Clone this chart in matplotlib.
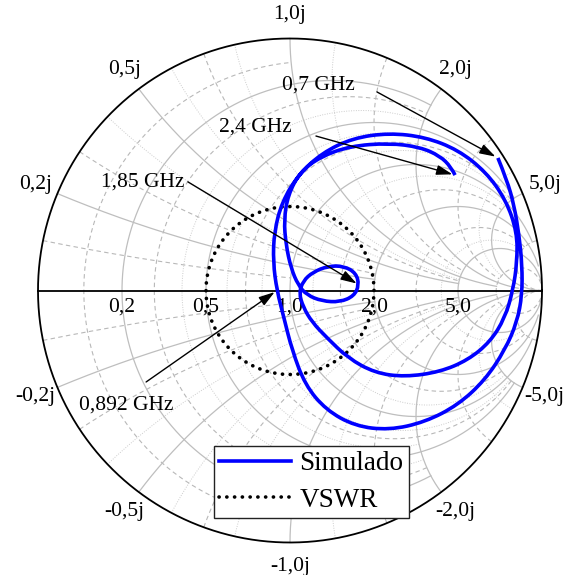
import numpy as np
import matplotlib
matplotlib.use('Agg')
import matplotlib.pyplot as plt
from matplotlib.path import Path
from matplotlib.patches import PathPatch
from matplotlib.lines import Line2D

# ---------------- data ----------------
# reflection coefficient trace (real / imag), swept 0.7 GHz -> 2.4 GHz
gamma_re = [0.825, 0.861, 0.889, 0.909, 0.921, 0.921, 0.901, 0.853, 0.774, 0.667,
            0.536, 0.393, 0.258, 0.143, 0.060, 0.008, -0.024, -0.052, -0.067, -0.063,
            -0.032, 0.032, 0.127, 0.250, 0.393, 0.536, 0.667, 0.778, 0.857, 0.901,
            0.901, 0.885, 0.853, 0.794, 0.706, 0.595, 0.456, 0.337, 0.230, 0.147,
            0.087, 0.052, 0.036, 0.052, 0.091, 0.151, 0.214, 0.262, 0.274, 0.254,
            0.198, 0.127, 0.067, 0.032, 0.004, -0.016, -0.024, -0.008, 0.040, 0.119,
            0.238, 0.393, 0.516, 0.595, 0.639, 0.655]
gamma_im = [0.526, 0.438, 0.339, 0.220, 0.101, -0.018, -0.125, -0.236, -0.355, -0.454,
            -0.522, -0.554, -0.538, -0.474, -0.375, -0.236, -0.109, 0.000, 0.113, 0.232,
            0.351, 0.458, 0.546, 0.605, 0.625, 0.609, 0.558, 0.470, 0.359, 0.232,
            0.113, 0.002, -0.109, -0.204, -0.276, -0.323, -0.343, -0.327, -0.268, -0.188,
            -0.125, -0.065, -0.010, 0.038, 0.073, 0.097, 0.097, 0.069, 0.022, -0.022,
            -0.046, -0.042, -0.018, 0.022, 0.089, 0.181, 0.280, 0.379, 0.470, 0.530,
            0.573, 0.585, 0.569, 0.534, 0.490, 0.458]

marker_labels = ['0,7 GHz', '2,4 GHz', '1,85 GHz', '0,892 GHz']
marker_index = [0, 65, 48, 17]

vswr_value = 2.0

r_ticks = [0.2, 0.5, 1.0, 2.0, 5.0]
r_tick_labels = ['0,2', '0,5', '1,0', '2,0', '5,0']
x_ticks = [0.2, 0.5, 1.0, 2.0, 5.0, -0.2, -0.5, -1.0, -2.0, -5.0]
x_tick_labels = ['0,2j', '0,5j', '1,0j', '2,0j', '5,0j',
                 '-0,2j', '-0,5j', '-1,0j', '-2,0j', '-5,0j']

# grid values and the value at which each grid line stops
grid_major = [0.2, 0.5, 1.0, 2.0, 5.0]
grid_major_stop = [2.0, 5.0, 10.0, 20.0, 1e9]
grid_dashed = [0.1, 0.3, 0.7, 1.5, 3.0, 10.0]
grid_dashed_stop = [1.0, 2.0, 5.0, 5.0, 10.0, 1e9]
grid_dotted = [0.4, 0.6, 0.8, 1.2, 4.0]
grid_dotted_stop = [2.0, 2.0, 5.0, 5.0, 10.0]

# ---------------- layout ----------------
ann_text_pos = [(0.111, 0.815), (-0.139, 0.649), (-0.583, 0.431), (-0.651, -0.454)]
ann_arrow_start = [(0.345, 0.788), (0.103, 0.613), (-0.405, 0.431), (-0.571, -0.363)]

FONT = 'Liberation Serif'
W, H = 568, 575
CX, CY, R = 290.0, 290.5, 252.0

fig = plt.figure(figsize=(W / 100, H / 100), dpi=100)
ax = fig.add_axes([0, 0, 1, 1])
ax.set_xlim(-CX / R, (W - CX) / R)
ax.set_ylim((CY - H) / R, CY / R)
ax.axis('off')


def z2g(z):
    return (z - 1) / (z + 1)


def r_circle(r, xmax):
    t = np.linspace(-np.arctan(xmax), np.arctan(xmax), 1500)
    return z2g(r + 1j * np.tan(t))


def x_arc(x, rmax):
    t = np.linspace(0, np.arctan(rmax), 1500)
    return z2g(np.tan(t) + 1j * x)


def draw_grid(vals, stops, **kw):
    for v, s in zip(vals, stops):
        g = r_circle(v, s)
        ax.plot(g.real, g.imag, **kw)
        for sg in (1, -1):
            g = x_arc(sg * v, s)
            ax.plot(g.real, g.imag, **kw)


draw_grid(grid_dotted, grid_dotted_stop, color='#cccccc', lw=0.7,
          ls=(0, (1, 1.5)), zorder=1)
draw_grid(grid_dashed, grid_dashed_stop, color='#b8b8b8', lw=0.8,
          ls=(0, (4, 3)), zorder=1.1)
draw_grid(grid_major, grid_major_stop, color='#bebebe', lw=0.9, ls='-', zorder=1.2)

# outer circle and real axis
th = np.linspace(0, 2 * np.pi, 800)
ax.plot(np.cos(th), np.sin(th), color='black', lw=1.3, zorder=3)
ax.plot([-1, 1], [0, 0], color='black', lw=1.3, zorder=3)

# tick labels
for r, lab in zip(r_ticks, r_tick_labels):
    g = z2g(r)
    ax.text(g, -0.066, lab, ha='center', va='center', fontsize=15.5,
            family=FONT, zorder=5)
for x, lab in zip(x_ticks, x_tick_labels):
    g = z2g(1j * x)
    ax.text(1.095 * g.real, 1.095 * g.imag, lab, ha='center', va='center',
            fontsize=15.5, family=FONT, zorder=5)

# VSWR circle
rho = (vswr_value - 1) / (vswr_value + 1)
vswr_style = dict(color='black', lw=2.6, ls=(0, (0.05, 2.1)), dash_capstyle='round')
ax.plot(rho * np.cos(th), rho * np.sin(th), zorder=4, **vswr_style)

# simulated trace, drawn as a smooth quadratic path through the read points
pts = np.column_stack([gamma_re, gamma_im])
verts = [pts[0]]
codes = [Path.MOVETO]
for i in range(1, len(pts) - 1):
    nxt = pts[i + 1] if i == len(pts) - 2 else (pts[i] + pts[i + 1]) / 2
    verts += [pts[i], nxt]
    codes += [Path.CURVE3, Path.CURVE3]
trace_style = dict(color='#0000ff', lw=2.6)
ax.add_patch(PathPatch(Path(verts, codes), facecolor='none', edgecolor='#0000ff',
                       lw=2.6, capstyle='butt', joinstyle='round', zorder=6))

# annotations
for lab, idx, tp, ap in zip(marker_labels, marker_index, ann_text_pos, ann_arrow_start):
    ax.annotate('', xy=(gamma_re[idx], gamma_im[idx]), xytext=ap,
                arrowprops=dict(arrowstyle='-|>,head_length=0.8,head_width=0.25',
                                mutation_scale=12, color='black', lw=1.0,
                                shrinkA=0, shrinkB=2), zorder=7)
    ax.text(tp[0], tp[1], lab, ha='center', va='center', fontsize=15.5,
            family=FONT, zorder=7)

handles = [Line2D([], [], **trace_style), Line2D([], [], **vswr_style)]
leg = ax.legend(handles, ['Simulado', 'VSWR'],
                loc='upper left', bbox_to_anchor=(214 / W, 1 - 446 / H),
                bbox_transform=fig.transFigure, prop={'family': FONT, 'size': 19.5},
                frameon=True, fancybox=False, framealpha=1, edgecolor='#222222',
                handlelength=2.65, handletextpad=0.3, labelspacing=0.42,
                borderpad=0.2, borderaxespad=0)
leg.get_frame().set_linewidth(1.0)
leg.set_zorder(8)

fig.savefig('out.png', dpi=100)
